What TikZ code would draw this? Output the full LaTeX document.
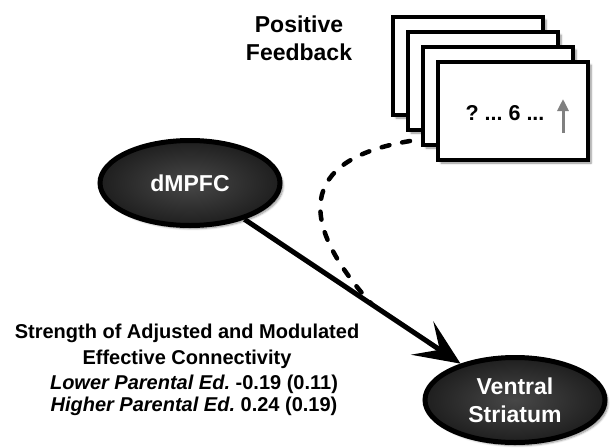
\documentclass[tikz,border=0pt]{standalone}
\usepackage{fontspec}
\setmainfont{Liberation Sans}
\usepackage{tikz}
\usetikzlibrary{shapes.geometric}
\usetikzlibrary{shadows.blur}
\usetikzlibrary{calc}
\usetikzlibrary{arrows.meta}
\frenchspacing
\newcommand{\cardsizex}{150pt}
\newcommand{\cardsizey}{98pt}
\newcommand{\regionsizex}{180pt}
\newcommand{\regionsizey}{85pt}
\newcommand{\regionfont}{\fontsize{23}{28}\selectfont\bfseries}
\newcommand{\cuefont}{\fontsize{21.5}{25}\selectfont\bfseries}
\newcommand{\statfont}{\fontsize{20}{24}\selectfont\bfseries}

\begin{document}
\begin{tikzpicture}[x=1pt,y=-1pt,
    card/.style={draw, line width=3.5pt, fill=white,
      minimum width=\cardsizex, minimum height=\cardsizey,
      blur shadow={shadow xshift=3pt, shadow yshift=-3pt,
        shadow blur steps=6, shadow opacity=45}},
    region/.style={ellipse, draw, line width=5pt, inner sep=0pt,
      minimum width=\regionsizex, minimum height=\regionsizey,
      inner color=black!72, outer color=black!88,
      text=white, font=\regionfont, align=center,
      blur shadow={shadow xshift=3pt, shadow yshift=-3pt,
        shadow blur steps=6, shadow opacity=45}}]
    \useasboundingbox (0,0) rectangle (610,447);
    % feedback cards
    \node[card] (card1) at (468,66) {};
    \node[card] (card2) at (483,81) {};
    \node[card] (card3) at (498,96) {};
    \node[card] (card4) at (513,111) {};
    \node[font=\cuefont] (cue) at (505,113) {? ... 6 ...};
    \coordinate (upfoot) at (563,133);
    \coordinate (uphead) at (563,99);
    \draw [gray, line width=3pt, -{Triangle[length=12pt,width=11pt]}]
      (upfoot) -- (uphead);
    \node[font=\regionfont, align=center] (fbtitle) at (299,38)
      {Positive\\Feedback};
    % regions
    \node[region] (dmpfc) at (190,183) {dMPFC};
    \node[region] (vs) at (515,400) {Ventral\\Striatum};
    \begin{scope}
      \coordinate (dashfrom) at (410,141);
      \coordinate (dashto) at ($(dmpfc.center)!0.56!(vs.center)$);
      \draw [line width=4.5pt, dash pattern=on 8pt off 13pt, line cap=round]
        (dashfrom) .. controls (295,160) and (300,225) .. (dashto);
      \draw [line width=5pt, -{Stealth[length=46pt,width=40pt,inset=21pt]}]
        (dmpfc) -- (vs);
    \end{scope}
    % connectivity values
    \node[font=\statfont, anchor=base] (title1) at (187,338)
      {Strength of Adjusted and Modulated};
    \node[font=\statfont, anchor=base] (title2) at (187,364)
      {Effective Connectivity};
    \node[font=\statfont, anchor=base] (lower) at (194,389)
      {\textit{Lower Parental Ed.} -0.19 (0.11)};
    \node[font=\statfont, anchor=base] (higher) at (194,411)
      {\textit{Higher Parental Ed.} 0.24 (0.19)};
  \end{tikzpicture}
\end{document}
